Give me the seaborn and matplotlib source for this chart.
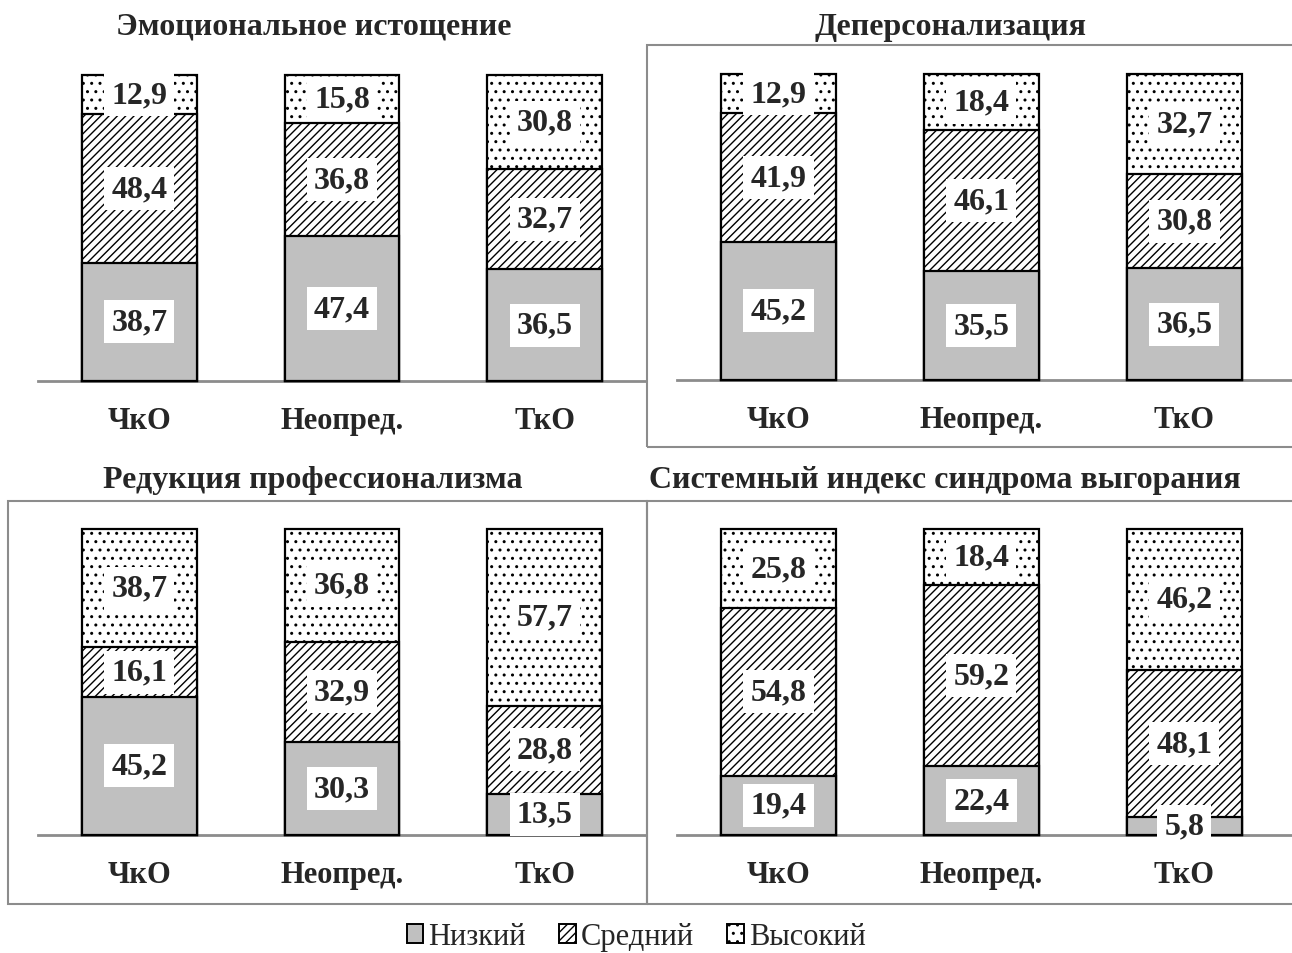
import matplotlib
matplotlib.use("Agg")
import matplotlib.pyplot as plt
from matplotlib.patches import Rectangle, Patch
import seaborn as sns
import pandas as pd

categories = ["ЧкО", "Неопред.", "ТкО"]
levels = ["Низкий", "Средний", "Высокий"]
titles = ["Эмоциональное истощение", "Деперсонализация",
          "Редукция профессионализма", "Системный индекс синдрома выгорания"]

emo_low = [38.7, 47.4, 36.5]
emo_mid = [48.4, 36.8, 32.7]
emo_high = [12.9, 15.8, 30.8]

dep_low = [45.2, 35.5, 36.5]
dep_mid = [41.9, 46.1, 30.8]
dep_high = [12.9, 18.4, 32.7]

red_low = [45.2, 30.3, 13.5]
red_mid = [16.1, 32.9, 28.8]
red_high = [38.7, 36.8, 57.7]

sys_low = [19.4, 22.4, 5.8]
sys_mid = [54.8, 59.2, 48.1]
sys_high = [25.8, 18.4, 46.2]

panels = [
    (emo_low, emo_mid, emo_high),
    (dep_low, dep_mid, dep_high),
    (red_low, red_mid, red_high),
    (sys_low, sys_mid, sys_high),
]

sns.set_style("white")
plt.rcParams["font.family"] = ["Liberation Serif", "DejaVu Serif"]
plt.rcParams["hatch.linewidth"] = 1.0

W, H = 1292, 954
fig = plt.figure(figsize=(W / 100, H / 100), dpi=100)


def fx(px):
    return px / W


def fy(py):
    return 1 - py / H


# axes rectangles in pixels: (left, right, top(100%), baseline)
ax_px = [
    (38, 646, 76, 382, 2.5),
    (677, 1292, 75, 381, 2.53),
    (38, 646, 530, 836, 2.5),
    (677, 1292, 530, 836, 2.53),
]
title_pos = [(314, 27), (951, 27), (313, 481), (945, 481)]

# panel borders (pixels)
borders = [(647, 46, 1300, 448), (8, 502, 647, 905), (647, 502, 1300, 905)]
for x0, y0, x1, y1 in borders:
    fig.add_artist(Rectangle((fx(x0), fy(y1)), fx(x1) - fx(x0), fy(y0) - fy(y1),
                             transform=fig.transFigure, fill=False,
                             edgecolor="#8c8c8c", linewidth=1.5))

gray = "#c0c0c0"
bar_w = 0.567
label_font = dict(fontsize=23, fontweight="bold", family="Liberation Serif")

for i, (low, mid, high) in enumerate(panels):
    l, r, t, b, xmax = ax_px[i]
    ax = fig.add_axes([fx(l), fy(b), fx(r) - fx(l), fy(t) - fy(b)])
    cum_mid = [a + c for a, c in zip(low, mid)]
    cum_high = [a + c + d for a, c, d in zip(low, mid, high)]
    df = pd.DataFrame({"cat": categories, "low": low, "mid": cum_mid, "high": cum_high})
    sns.barplot(data=df, x="cat", y="high", color="white", saturation=1,
                hatch="..", edgecolor="black", linewidth=1.6, width=bar_w, ax=ax,
                clip_on=False)
    sns.barplot(data=df, x="cat", y="mid", color="white", saturation=1,
                hatch="////", edgecolor="black", linewidth=1.6, width=bar_w, ax=ax,
                clip_on=False)
    sns.barplot(data=df, x="cat", y="low", color=gray, saturation=1,
                edgecolor="black", linewidth=1.6, width=bar_w, ax=ax,
                clip_on=False)
    ax.set_xlim(-0.5, xmax)
    ax.set_ylim(0, 100)
    ax.set_xlabel("")
    ax.set_ylabel("")
    ax.set_yticks([])
    for s in ["top", "left", "right"]:
        ax.spines[s].set_visible(False)
    ax.spines["bottom"].set_color("#8c8c8c")
    ax.spines["bottom"].set_linewidth(2)
    ax.spines["bottom"].set_zorder(0.5)
    ax.tick_params(axis="x", length=0, pad=18)
    ax.set_xticks(range(len(categories)))
    ax.set_xticklabels(categories, fontsize=22, fontweight="bold")

    for j in range(len(categories)):
        bottoms = [0, low[j], cum_mid[j]]
        vals = [low[j], mid[j], high[j]]
        for bt, v in zip(bottoms, vals):
            ax.text(j, bt + v / 2, f"{v:.1f}".replace(".", ","), ha="center",
                    va="center", zorder=5,
                    bbox=dict(boxstyle="square,pad=0.22", facecolor="white",
                              edgecolor="none"),
                    **label_font)

    tx, ty = title_pos[i]
    fig.text(fx(tx), fy(ty), titles[i], ha="center", va="center",
             fontsize=23, fontweight="bold")

handles = [
    Patch(facecolor=gray, edgecolor="black", linewidth=1.4),
    Patch(facecolor="white", edgecolor="black", hatch="////", linewidth=1.4),
    Patch(facecolor="white", edgecolor="black", hatch="..", linewidth=1.4),
]
fig.legend(handles, levels, loc="center", bbox_to_anchor=(fx(636), fy(938)),
           ncol=3, frameon=False, fontsize=22, handlelength=0.55,
           handleheight=0.55, handletextpad=0.15, columnspacing=1.1)

fig.savefig("out.png", dpi=100)
